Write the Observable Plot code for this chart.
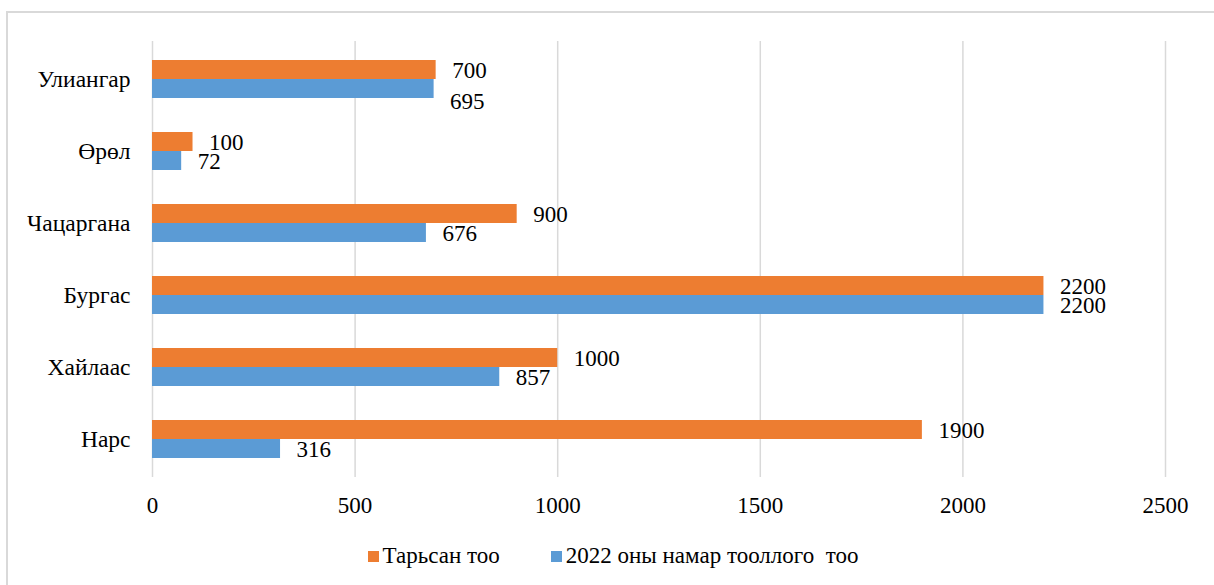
<!DOCTYPE html>
<html>
<head>
<meta charset="utf-8">
<script src="https://cdn.jsdelivr.net/npm/d3@7"></script>
<script src="https://cdn.jsdelivr.net/npm/@observablehq/plot@0.6"></script>
<style>
  html, body { margin: 0; padding: 0; background: #fff; }
  body { width: 1214px; height: 585px; overflow: hidden; position: relative; font-family: 'Liberation Serif', 'Times New Roman', 'DejaVu Serif', serif; }
  #frame { position: absolute; left: 6px; top: 11px; width: 1220px; height: 600px; border-left: 2px solid #d9d9d9; border-top: 2px solid #d9d9d9; box-sizing: border-box; }
  #chart { position: absolute; left: 0; top: 0; }
  #chart svg, #chart svg text { font-family: 'Liberation Serif', 'Times New Roman', 'DejaVu Serif', serif !important; }
  #legend { position: absolute; left: 0; top: 543px; width: 1226px; display: flex; justify-content: center; align-items: center; font-size: 23px; color: #000; white-space: pre; }
  .item { display: flex; align-items: center; }
  .sw { width: 11px; height: 11px; margin-right: 4px; }
</style>
</head>
<body>
<div id="frame"></div>
<div id="chart"></div>
<div id="legend"></div>
<script>
const categories = ["Улиангар", "Өрөл", "Чацаргана", "Бургас", "Хайлаас", "Нарс"];
const planted = [700, 100, 900, 2200, 1000, 1900];
const counted2022 = [695, 72, 676, 2200, 857, 316];
const seriesNames = ["Тарьсан тоо", "2022 оны намар тооллого  тоо"];
const seriesColors = ["#ED7D31", "#5B9BD5"];
const xTicks = [0, 500, 1000, 1500, 2000, 2500];

const rows = categories.flatMap((c, i) => [
  {category: c, series: seriesNames[0], value: planted[i]},
  {category: c, series: seriesNames[1], value: counted2022[i]}
]);
const upperRows = rows.filter(d => d.series === seriesNames[0]);
const lowerRows = rows.filter(d => d.series === seriesNames[1]);
const shifted = "Улиангар";

const half = 19;
const font = "'Liberation Serif', 'Times New Roman', serif";

const plot = Plot.plot({
  width: 1214,
  height: 530,
  marginTop: 41,
  marginBottom: 53,
  marginLeft: 152,
  marginRight: 49,
  style: {fontFamily: font, fontSize: "23px", color: "#000", background: "transparent"},
  x: {domain: [0, 2500]},
  y: {domain: categories, paddingInner: 0.477, paddingOuter: 0.2385},
  color: {domain: seriesNames, range: seriesColors},
  marks: [
    Plot.ruleX(xTicks, {stroke: "#d9d9d9", strokeWidth: 1.5}),
    Plot.barX(upperRows, {x: "value", y: "category", fill: "series", insetBottom: half}),
    Plot.barX(lowerRows, {x: "value", y: "category", fill: "series", insetTop: half}),
    Plot.text(upperRows, {x: "value", y: "category", text: d => String(d.value), dx: 16, dy: -half / 2 + 1, textAnchor: "start", fill: "#000", fontSize: 23, fontFamily: font}),
    Plot.text(lowerRows.filter(d => d.category !== shifted), {x: "value", y: "category", text: d => String(d.value), dx: 16, dy: half / 2 + 1, textAnchor: "start", fill: "#000", fontSize: 23, fontFamily: font}),
    Plot.text(lowerRows.filter(d => d.category === shifted), {x: "value", y: "category", text: d => String(d.value), dx: 16, dy: half / 2 + 13, textAnchor: "start", fill: "#000", fontSize: 23, fontFamily: font}),
    Plot.axisX(xTicks, {tickSize: 0, tickPadding: 19, fontSize: 23, fontFamily: font, label: null, tickFormat: d => String(d)}),
    Plot.axisY({tickSize: 0, tickPadding: 22, fontSize: 23.5, fontFamily: font, label: null})
  ]
});
document.getElementById("chart").appendChild(plot);

const legend = d3.select("#legend");
seriesNames.forEach((name, i) => {
  const item = legend.append("div").attr("class", "item").style("margin-right", i === 0 ? "51px" : "0px");
  item.append("div").attr("class", "sw").style("background", seriesColors[i]);
  item.append("span").text(name);
});
</script>
</body>
</html>
